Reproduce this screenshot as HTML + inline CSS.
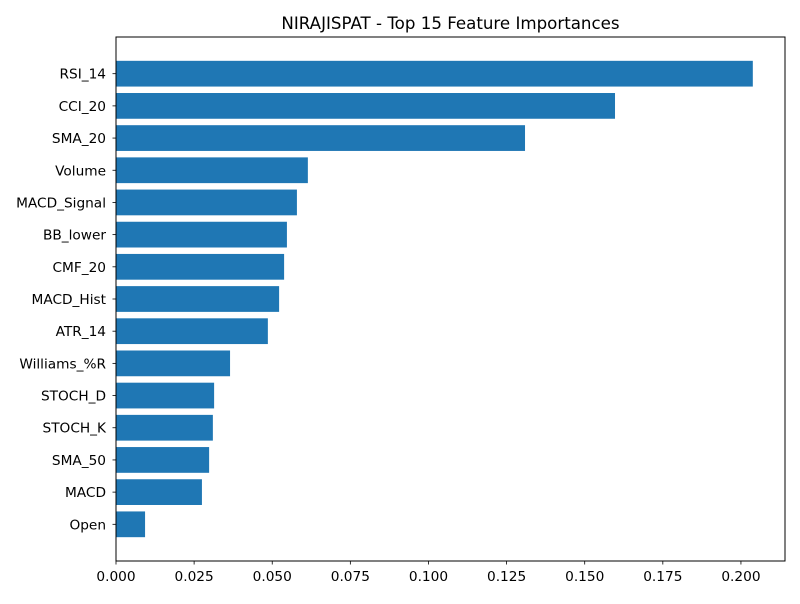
<!DOCTYPE html>
<html><head><meta charset="utf-8"><style>
body{margin:0;background:#fff;font-family:"DejaVu Sans","Liberation Sans",sans-serif}
</style></head><body>
<svg id="chart" width="800" height="600" xmlns="http://www.w3.org/2000/svg" font-family="DejaVu Sans, Liberation Sans, sans-serif">
<rect width="800" height="600" fill="#fff"/>
<text x="450.5" y="29" text-anchor="middle" font-size="16.67" fill="#000">NIRAJISPAT - Top 15 Feature Importances</text>
<g id="bars"></g>
<g id="yaxis"></g>
<g id="xaxis"></g>
<rect x="116" y="37" width="669" height="524" fill="none" stroke="#000" stroke-width="1"/>
</svg>
<script>
const features = ["RSI_14","CCI_20","SMA_20","Volume","MACD_Signal","BB_lower","CMF_20","MACD_Hist","ATR_14","Williams_%R","STOCH_D","STOCH_K","SMA_50","MACD","Open"];
const importances = [0.2038,0.1597,0.1309,0.0614,0.0579,0.0547,0.0538,0.0522,0.0486,0.0365,0.0314,0.0310,0.0298,0.0275,0.0093];
const xTicks = [0,0.025,0.05,0.075,0.1,0.125,0.15,0.175,0.2];
const xTickLabels = ["0.000","0.025","0.050","0.075","0.100","0.125","0.150","0.175","0.200"];

const NS="http://www.w3.org/2000/svg";
const L=116,R=785,T=37,B=561;
const xMax=0.2141;
const x=v=>L+v/xMax*(R-L);
const n=features.length;
const yMin=-0.4-0.05*(n-0.2), yMax=n-1+0.4+0.05*(n-0.2);
const yPos=k=>B-(k-yMin)/(yMax-yMin)*(B-T);
const bars=document.getElementById('bars'),ya=document.getElementById('yaxis'),xa=document.getElementById('xaxis');
function mk(tag,attrs,parent){const e=document.createElementNS(NS,tag);for(const k in attrs)e.setAttribute(k,attrs[k]);parent.appendChild(e);return e;}
features.forEach((f,i)=>{
  const k=n-1-i;
  const c=yPos(k);
  const h=yPos(k-0.4)-yPos(k+0.4);
  const r=mk('rect',{x:L,y:c-h/2,width:x(importances[i])-L,height:h,fill:'#1f77b4'},bars);
  
  
  const t=mk('line',{x1:L-3.5,x2:L,y1:c,y2:c,stroke:'#000','stroke-width':0.8},ya);
  
  
  const lb=mk('text',{x:L-10,y:c+5,'text-anchor':'end','font-size':13.7,fill:'#000'},ya);
  lb.textContent=f;
  
  
});
xTicks.forEach((v,i)=>{
  const px=x(v);
  const t=mk('line',{x1:px,x2:px,y1:B,y2:B+3.5,stroke:'#000','stroke-width':0.8},xa);
  
  
  const lb=mk('text',{x:px,y:B+20,'text-anchor':'middle','font-size':13.7,fill:'#000'},xa);
  lb.textContent=xTickLabels[i];
  
  
});
</script>
</body></html>
